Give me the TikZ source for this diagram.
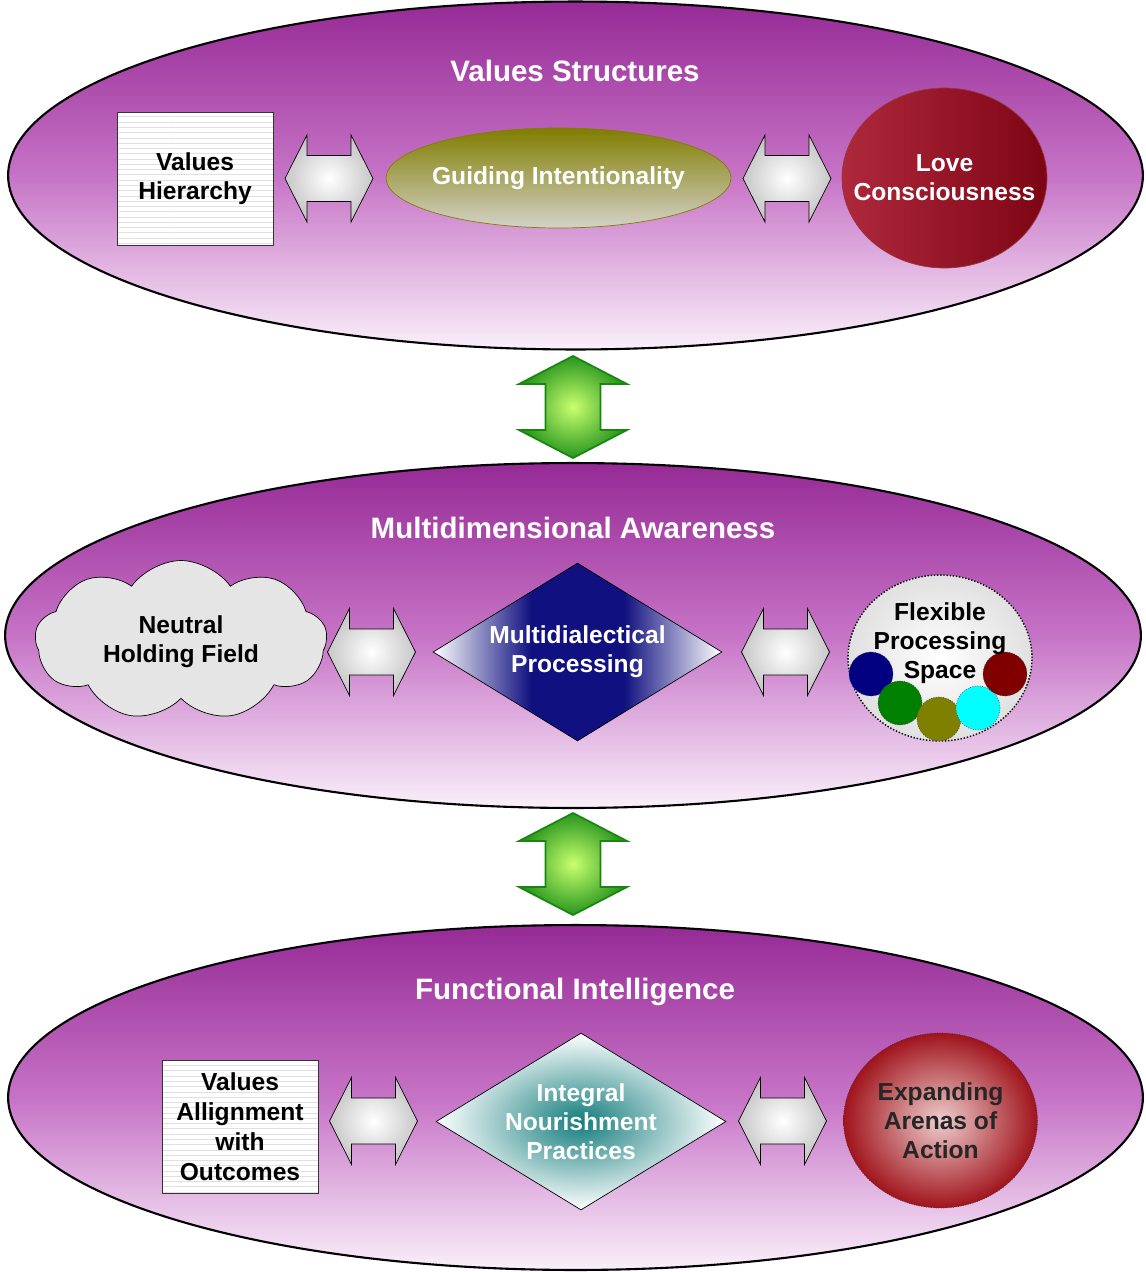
\documentclass[tikz,border=0pt]{standalone}
\usepackage{fontspec}
\setmainfont{Liberation Sans}
\usetikzlibrary{shapes.geometric,shapes.symbols,patterns}

\definecolor{laytop}{RGB}{150,42,150}
\definecolor{laymid}{RGB}{198,115,198}
\definecolor{laybot}{RGB}{250,240,250}
\definecolor{olivetop}{RGB}{128,125,0}
\definecolor{olivebot}{RGB}{212,210,200}
\definecolor{lovelight}{RGB}{175,40,60}
\definecolor{lovedark}{RGB}{125,5,20}
\definecolor{mdnavy}{RGB}{16,16,128}
\definecolor{inpteal}{RGB}{20,125,125}
\definecolor{eaapink}{RGB}{238,205,205}
\definecolor{eaared}{RGB}{160,20,28}
\definecolor{greenlight}{RGB}{200,255,110}
\definecolor{greendark}{RGB}{40,150,30}
\definecolor{greenline}{RGB}{25,135,15}
\definecolor{dotcyan}{RGB}{0,255,255}

\newcommand{\layerfont}{\fontsize{16.8}{20}\selectfont\bfseries}
\newcommand{\boxfont}{\fontsize{14}{16.5}\selectfont\bfseries}

\pgfdeclarehorizontalshading{mdshade}{100bp}{color(0bp)=(white); color(25bp)=(white); color(42bp)=(mdnavy); color(58bp)=(mdnavy); color(75bp)=(white); color(100bp)=(white)}

\begin{document}
\begin{tikzpicture}[
            x = 0.02cm, y = -0.02cm, % one unit per pixel
            layer/.style = {shape=ellipse, draw=black, line width=1.2pt,
                top color=laytop, bottom color=laybot, middle color=laymid, inner sep=0pt},
            title/.style = {font=\layerfont, text=white},
            lbl/.style = {font=\boxfont, align=center},
            valbox/.style = {shape=rectangle, draw=black!80, thin, preaction={fill=white},
                pattern=horizontal lines, pattern color=black!12,
                minimum width=3.12cm, minimum height=2.66cm, font=\boxfont, align=center},
            grayarrow/.style = {draw=black, thin, inner color=white, outer color=black!22},
            greenarrow/.style = {draw=greenline, line width=1pt, inner color=greenlight, outer color=greendark},
            dot/.style = {shape=circle, draw=black!70, densely dotted, thin, minimum size=0.88cm, inner sep=0pt},
            hdarrow/.pic = {\path[grayarrow] (-44,0) -- (-22,-43.5) -- (-22,-23) -- (22,-23) -- (22,-43.5)
                -- (44,0) -- (22,43.5) -- (22,23) -- (-22,23) -- (-22,43.5) -- cycle;},
            vdarrow/.pic = {\path[greenarrow] (0,-51) -- (54,-23) -- (27.5,-23) -- (27.5,23) -- (54,23)
                -- (0,51) -- (-54,23) -- (-27.5,23) -- (-27.5,-23) -- (-54,-23) -- cycle;}
        ]
\useasboundingbox (0,0) rectangle (1146,1272);

% three layers
\node[layer, minimum width=22.7cm, minimum height=6.96cm] (vs) at (575.5,175.5) {};
\node[layer, minimum width=22.72cm, minimum height=6.9cm] (ma) at (573,635.5) {};
\node[layer, minimum width=22.7cm, minimum height=6.9cm] (fi) at (575.5,1097.5) {};

\node[title] (vs_t) at (575,71) {Values Structures};
\node[title] (ma_t) at (573,528) {Multidimensional Awareness};
\node[title] (fi_t) at (575,992) {Functional Intelligence};

\pic at (573,407) {vdarrow};
\pic at (573,864) {vdarrow};

% top row
\node[valbox] (vh) at (195,178.5) {Values\\Hierarchy};
\node[shape=ellipse, draw=olivetop, thin, top color=olivetop, bottom color=olivebot,
      minimum width=6.9cm, minimum height=2cm] (gi) at (558.5,178) {};
\node[lbl, text=white] (gi_t) at (gi) {Guiding Intentionality};
\node[shape=ellipse, draw=lovedark!80, thin, left color=lovelight, right color=lovedark,
      minimum width=4.1cm, minimum height=3.6cm] (lc) at (944.5,178) {};
\node[lbl, text=white] (lc_t) at (lc) {Love\\Consciousness};
\pic at (329,178.5) {hdarrow};
\pic at (787,178.5) {hdarrow};

% middle row
\node[shape=cloud, cloud puffs=9, cloud puff arc=110, cloud ignores aspect, draw=black, thin,
      fill=black!10, minimum width=5.84cm, minimum height=3.2cm] (nhf) at (181,640.5) {};
\node[lbl] (nhf_t) at (181,642) {Neutral\\Holding Field};
\node[shape=diamond, shape aspect=1.62, inner sep=0pt, draw=black, thin, shading=mdshade,
      minimum width=5.78cm, minimum height=3.56cm, font=\boxfont, align=center, text=white] (mdp) at (577.5,652) {Multidialectical\\Processing};
\node[shape=ellipse, draw=black, densely dotted, line width=0.8pt, inner color=white, outer color=black!12,
      minimum width=3.68cm, minimum height=3.32cm] (fps) at (940,658) {};
\node[dot, fill={rgb,255:red,0;green,0;blue,128}] (d1) at (871,674) {};
\node[dot, fill={rgb,255:red,0;green,128;blue,0}] (d2) at (900,703) {};
\node[dot, fill={rgb,255:red,128;green,128;blue,0}] (d3) at (939,719) {};
\node[dot, fill=dotcyan] (d4) at (978,708) {};
\node[dot, fill={rgb,255:red,128;green,0;blue,0}] (d5) at (1005,674) {};
\node[lbl] (fps_t) at (940,643) {Flexible\\Processing\\Space};
\pic at (371.5,652) {hdarrow};
\pic at (785.5,652) {hdarrow};

% bottom row
\node[valbox, font=\fontsize{14}{17}\selectfont\bfseries] (vao) at (240,1126.5) {Values\\Allignment\\with\\Outcomes};
\node[shape=diamond, shape aspect=1.63, inner sep=0pt, draw=black, thin, inner color=inpteal, outer color=white,
      minimum width=5.8cm, minimum height=3.54cm, font=\boxfont, align=center, text=white] (inp) at (581,1121.5) {Integral\\Nourishment\\Practices};
\node[shape=ellipse, draw=black!80, densely dotted, thin, inner color=eaapink, outer color=eaared,
      minimum width=3.88cm, minimum height=3.5cm] (eaa) at (940.5,1120.5) {};
\node[lbl, text=black!85] (eaa_t) at (eaa) {Expanding\\Arenas of\\Action};
\pic at (373.5,1121) {hdarrow};
\pic at (782.5,1121) {hdarrow};
\end{tikzpicture}
\end{document}
